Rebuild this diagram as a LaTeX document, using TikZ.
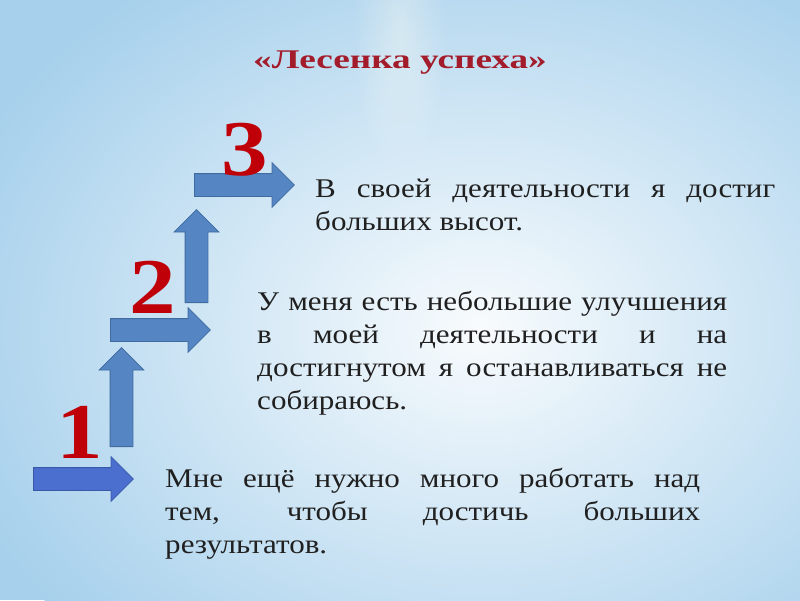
\documentclass[tikz,border=0pt]{standalone}
\usepackage{fontspec}
\setmainfont{Liberation Serif}
\usetikzlibrary{positioning, shapes.arrows}
\tolerance=10000
\hyphenpenalty=10000
\definecolor{bgblue}{HTML}{A6D0EC}
\definecolor{bglight}{HTML}{F8FBFD}
\definecolor{stairblue}{HTML}{5585C3}
\definecolor{stairedge}{HTML}{3F6B9F}
\definecolor{firstblue}{HTML}{4B6FCF}
\definecolor{firstedge}{HTML}{3A58A8}
\definecolor{numred}{HTML}{C00008}
\definecolor{titlered}{HTML}{A31C2B}
\definecolor{notegray}{HTML}{202020}
\tikzset{
	stair/.style={
		single arrow,
		draw=stairedge,
		fill=stairblue,
		line width=0.8pt,
		inner xsep=0pt,
		inner ysep=11pt,
		single arrow head extend=11pt,
		minimum height=100pt,
		anchor=tail,
	},
	stairup/.style={
		stair,
		rotate=90,
	},
	num/.style={
		text=numred,
		font=\fontsize{79}{79}\selectfont\bfseries,
		inner sep=0pt,
		xscale=1.18,
		anchor=base,
	},
	note/.style={
		text=notegray,
		font=\fontsize{27}{33}\selectfont,
		align=justify,
		inner sep=0pt,
		xscale=1.15,
		anchor=base west,
	},
}

\begin{document}
\begin{tikzpicture}[x=1pt, y=-1pt]
	\useasboundingbox (0,0) rectangle (800,600);
	% background
	\begin{scope}
		\clip (0,0) rectangle (800,600);
		\fill[bgblue] (0,0) rectangle (800,600);
		\shade[inner color=bglight, outer color=bgblue] (480,330) ellipse [x radius=560, y radius=430];
		\foreach \r in {4,8,...,44}
			\fill[white, opacity=0.045] (400,30) ellipse [x radius=\r, y radius=3.2*\r];
	\end{scope}
	
	\node [text=titlered, font=\fontsize{27}{27}\selectfont\bfseries, xscale=1.38, anchor=base] (title) at (400,68) {«Лесенка успеха»};
	
	\node [stair, fill=firstblue, draw=firstedge] (h1) at (33,479) {};
	\node [stairup, minimum height=99pt] (v1) at (121.5,447) {};
	\node [stair] (h2) at (110,330) {};
	\node [stairup, minimum height=93pt] (v2) at (196.5,303) {};
	\node [stair] (h3) at (194,185) {};
	
	\node [num] (n1) at (80,458) {1};
	\node [num] (n2) at (153,313) {2};
	\node [num] (n3) at (245,175) {3};
	
	\node [note, text width=400pt] (t3) at (315,197) {В своей деятельности я достиг\linebreak больших высот.};
	\node [note, text width=408.7pt] (t2) at (257,310) {У меня есть небольшие улучшения\linebreak в моей деятельности и на\linebreak достигнутом я останавливаться не\linebreak собираюсь.};
	\node [note, text width=465.2pt] (t1) at (165,487) {Мне ещё нужно много работать над\linebreak тем, чтобы достичь больших\linebreak результатов.};
\end{tikzpicture}
\end{document}
